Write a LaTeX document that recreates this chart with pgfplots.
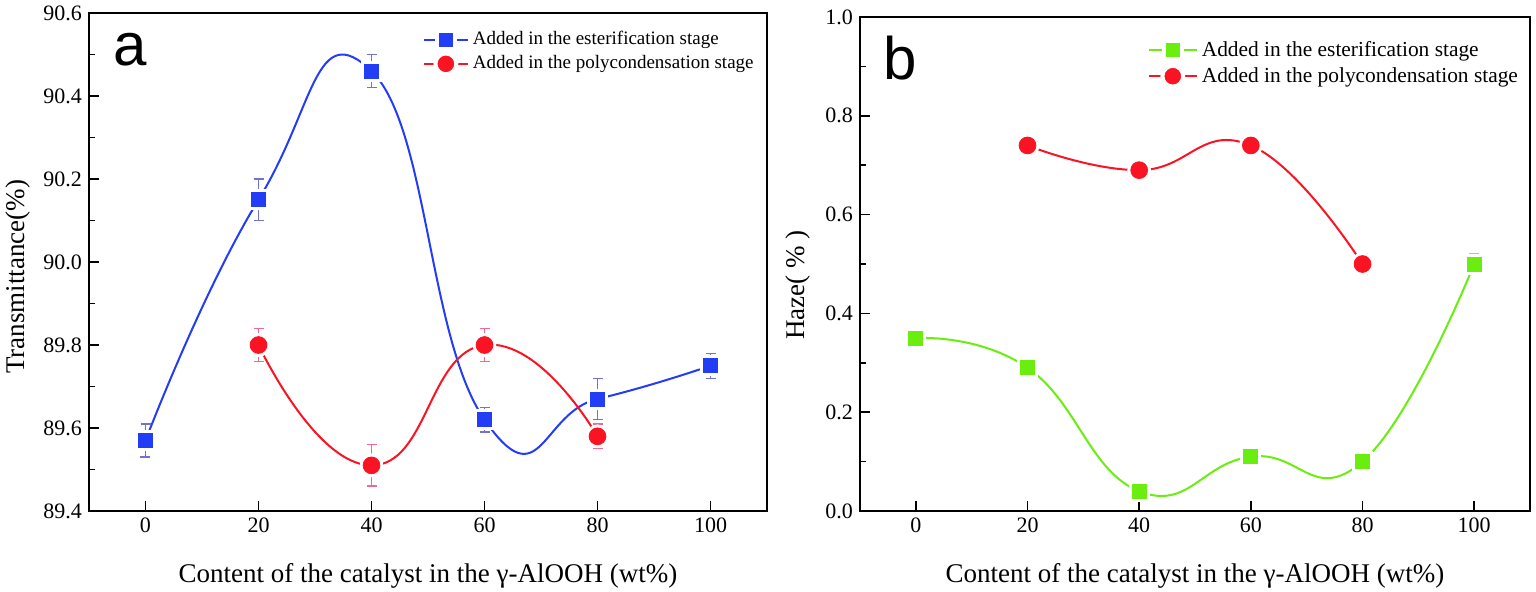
\documentclass[border=0pt]{standalone}
\usepackage{fontspec}
\setmainfont{Liberation Serif}
\newfontfamily\arialfont{Liberation Sans}
\usepackage{pgfplots}
\pgfplotsset{compat=1.18}

\definecolor{cblue}{RGB}{35,60,245}
\definecolor{cblueerr}{RGB}{115,115,205}
\definecolor{cred}{RGB}{250,20,35}
\definecolor{crederr}{RGB}{240,105,150}
\definecolor{cgreen}{RGB}{105,238,15}
\definecolor{cgreenerr}{RGB}{130,240,70}

\pgfplotsset{
 myaxis/.style={
  scale only axis,
  axis line style={line width=1pt},
  tick align=inside, xtick pos=bottom, ytick pos=left,
  major tick length=5pt, minor tick length=3pt,
  every tick/.style={black, line width=0.8pt},
  xmin=-10, xmax=110, xtick={0,20,...,100},
  minor y tick num=1,
  tick label style={font=\fontsize{11}{13}\selectfont},
  /pgf/number format/assume math mode=true,
  yticklabel style={/pgf/number format/.cd, fixed, fixed zerofill, precision=1},
  label style={font=\fontsize{13.5}{16}\selectfont},
  xlabel style={at={(axis description cs:0.5,0)}, anchor=base, yshift=-35.5pt},
  legend cell align=left,
 },
 halo/.style={only marks, white, forget plot},
}

\begin{document}
\begin{tikzpicture}
\useasboundingbox (0,0) rectangle (768pt,295.5pt);

% ---------------- panel a ----------------
\begin{axis}[myaxis,
  at={(44.5pt,40pt)}, anchor=south west,
  width=339pt, height=249pt,
  ymin=89.4, ymax=90.6, ytick={89.4,89.6,...,90.61},
  xlabel={Content of the catalyst in the γ-AlOOH (wt\%)},
  ylabel={Transmittance(\%)},
  ylabel style={at={(axis description cs:0,0.5)}, anchor=center, yshift=35.5pt, xshift=-7.5pt},
  legend style={draw=none, fill=none, at={(0.483,0.98)}, anchor=north west,
     font=\fontsize{9.5}{11}\selectfont, row sep=0pt},
  legend image code/.code={\draw[mark repeat=2,mark phase=2,#1] plot coordinates {(0pt,0pt) (11pt,0pt) (22pt,0pt)};},
]
\addlegendimage{cblue, line width=1pt, mark=square*, mark size=4.5pt, mark options={fill=cblue, draw=white, line width=2pt}}
\addlegendentry{Added in the esterification stage}
\addlegendimage{cred, line width=1pt, mark=*, mark size=5.2pt, mark options={fill=cred, draw=white, line width=2pt}}
\addlegendentry{Added in the polycondensation stage}

\addplot[cblue, line width=1pt, smooth, tension=0.9, no marks, forget plot]
 coordinates {(0,89.57) (20,90.15) (40,90.46) (60,89.62) (80,89.67) (100,89.75)};
\addplot[cred, line width=1pt, smooth, tension=0.9, no marks, forget plot]
 coordinates {(20,89.80) (40,89.51) (60,89.80) (80,89.58)};

\addplot[halo, mark=square*, mark size=5pt]
 coordinates {(0,89.57) (20,90.15) (40,90.46) (60,89.62) (80,89.67) (100,89.75)};
\addplot[halo, mark=*, mark size=5.7pt]
 coordinates {(20,89.80) (40,89.51) (60,89.80) (80,89.58)};

\addplot[cblue, only marks, mark=square*, mark size=3.5pt, forget plot,
  error bars/.cd, y dir=both, y explicit,
  error bar style={cblueerr, line width=0.7pt},
  error mark options={cblueerr, rotate=90, mark size=2.5pt, line width=0.7pt}]
 coordinates {(0,89.57) +- (0,0.04) (20,90.15) +- (0,0.05) (40,90.46) +- (0,0.04)
   (60,89.62) +- (0,0.03) (80,89.67) +- (0,0.05) (100,89.75) +- (0,0.03)};
\addplot[cred, only marks, mark=*, mark size=4.2pt, forget plot,
  error bars/.cd, y dir=both, y explicit,
  error bar style={crederr, line width=0.7pt},
  error mark options={crederr, rotate=90, mark size=2.5pt, line width=0.7pt}]
 coordinates {(20,89.80) +- (0,0.04) (40,89.51) +- (0,0.05) (60,89.80) +- (0,0.04)
   (80,89.58) +- (0,0.03)};

\node[anchor=base west, inner sep=0pt, font=\arialfont\fontsize{30}{32}\selectfont]
  at (rel axis cs:0.036,0.894) {a};
\end{axis}

% ---------------- panel b ----------------
\begin{axis}[myaxis,
  at={(430pt,40pt)}, anchor=south west,
  width=335pt, height=247pt,
  ymin=0, ymax=1.0, ytick={0,0.2,...,1.01},
  xlabel={Content of the catalyst in the γ-AlOOH (wt\%)},
  ylabel={Haze( \% )},
  ylabel style={at={(axis description cs:0,0.5)}, anchor=center, yshift=31pt, xshift=-10.5pt},
  legend style={draw=none, fill=none, at={(0.42,0.968)}, anchor=north west,
     font=\fontsize{10.7}{12.5}\selectfont, row sep=0pt},
  legend image code/.code={\draw[mark repeat=2,mark phase=2,#1] plot coordinates {(0pt,0pt) (12pt,0pt) (24pt,0pt)};},
]
\addlegendimage{cgreen, line width=1pt, mark=square*, mark size=4.5pt, mark options={fill=cgreen, draw=white, line width=2pt}}
\addlegendentry{Added in the esterification stage}
\addlegendimage{cred, line width=1pt, mark=*, mark size=5.2pt, mark options={fill=cred, draw=white, line width=2pt}}
\addlegendentry{Added in the polycondensation stage}

\addplot[cgreen, line width=1pt, smooth, tension=0.8, no marks, forget plot]
 coordinates {(0,0.35) (20,0.29) (40,0.04) (60,0.11) (80,0.10) (100,0.50)};
\addplot[cred, line width=1pt, smooth, tension=0.8, no marks, forget plot]
 coordinates {(20,0.74) (40,0.69) (60,0.74) (80,0.50)};

\addplot[halo, mark=square*, mark size=5pt]
 coordinates {(0,0.35) (20,0.29) (40,0.04) (60,0.11) (80,0.10) (100,0.50)};
\addplot[halo, mark=*, mark size=5.7pt]
 coordinates {(20,0.74) (40,0.69) (60,0.74) (80,0.50)};

\addplot[cgreen, only marks, mark=square*, mark size=3.5pt, forget plot,
  error bars/.cd, y dir=both, y explicit,
  error bar style={cgreenerr, line width=0.7pt},
  error mark options={cgreenerr, rotate=90, mark size=2.5pt, line width=0.7pt}]
 coordinates {(0,0.35) +- (0,0.02) (20,0.29) +- (0,0.02) (40,0.04) +- (0,0.02)
   (60,0.11) +- (0,0.02) (80,0.10) +- (0,0.02) (100,0.50) +- (0,0.02)};
\addplot[cred, only marks, mark=*, mark size=4.2pt, forget plot,
  error bars/.cd, y dir=both, y explicit,
  error bar style={crederr, line width=0.7pt},
  error mark options={crederr, rotate=90, mark size=2.5pt, line width=0.7pt}]
 coordinates {(20,0.74) +- (0,0.02) (40,0.69) +- (0,0.02) (60,0.74) +- (0,0.02)
   (80,0.50) +- (0,0.02)};

\node[anchor=base west, inner sep=0pt, font=\arialfont\fontsize{30}{32}\selectfont]
  at (rel axis cs:0.034,0.874) {b};
\end{axis}
\end{tikzpicture}
\end{document}
